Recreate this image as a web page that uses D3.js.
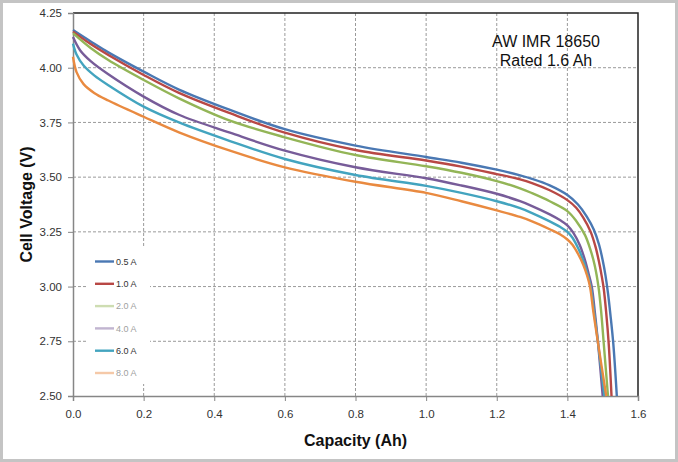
<!DOCTYPE html>
<html><head><meta charset="utf-8">
<script src="https://cdn.jsdelivr.net/npm/d3@7"></script>
<style>body{margin:0;background:#fff}svg{display:block;font-family:"Liberation Sans",Arial,sans-serif}</style>
</head><body><svg id="c" width="678" height="462"></svg>
<script>
const seriesNames = ["0.5 A","1.0 A","2.0 A","4.0 A","6.0 A","8.0 A"];
const seriesColors = ["#4a78b3","#b84845","#93b557","#775c99","#43a4bf","#e98a40"];
const xTicks = [0,0.2,0.4,0.6,0.8,1.0,1.2,1.4,1.6];
const yTicks = [2.5,2.75,3.0,3.25,3.5,3.75,4.0,4.25];
const title = ["AW IMR 18650","Rated 1.6 Ah"];
// [capacity Ah, voltage V]
const s05 = [[0,4.172],[0.05,4.12],[0.1,4.07],[0.2,3.982],[0.3,3.90],[0.4446,3.807],[0.6,3.719],[0.8,3.644],[1.0,3.592],[1.1,3.566],[1.2,3.534],[1.266,3.508],[1.3,3.492],[1.35,3.462],[1.4,3.418],[1.43,3.375],[1.455,3.32],[1.475,3.26],[1.49,3.19],[1.5,3.12],[1.508,3.05],[1.515,2.97],[1.522,2.87],[1.53,2.74],[1.54,2.5]];
const s10 = [[0,4.165],[0.05,4.108],[0.1,4.058],[0.2,3.967],[0.3,3.885],[0.4446,3.792],[0.6,3.703],[0.8,3.624],[1.0,3.576],[1.1,3.548],[1.2,3.514],[1.266,3.49],[1.3,3.473],[1.35,3.44],[1.4,3.395],[1.425,3.36],[1.445,3.315],[1.466,3.25],[1.48,3.18],[1.49,3.11],[1.497,3.05],[1.503,2.99],[1.51,2.88],[1.517,2.74],[1.525,2.5]];
const s20 = [[0,4.158],[0.05,4.09],[0.1,4.035],[0.2,3.944],[0.3,3.86],[0.4446,3.758],[0.6,3.682],[0.8,3.601],[1.0,3.55],[1.1,3.52],[1.2,3.482],[1.266,3.449],[1.3,3.427],[1.35,3.39],[1.4,3.345],[1.425,3.30],[1.45,3.235],[1.465,3.17],[1.477,3.10],[1.488,3.0],[1.496,2.88],[1.503,2.74],[1.515,2.5]];
const s40 = [[0,4.14],[0.02,4.08],[0.05,4.03],[0.1,3.97],[0.2,3.868],[0.3,3.785],[0.4446,3.703],[0.6,3.621],[0.8,3.545],[1.0,3.495],[1.1,3.462],[1.2,3.424],[1.266,3.39],[1.3,3.368],[1.35,3.33],[1.38,3.303],[1.4,3.28],[1.417,3.245],[1.435,3.19],[1.45,3.12],[1.46,3.06],[1.469,3.0],[1.478,2.88],[1.487,2.74],[1.5,2.5]];
const s60 = [[0,4.11],[0.01,4.06],[0.03,4.01],[0.06,3.965],[0.1,3.92],[0.2,3.822],[0.3,3.75],[0.4446,3.665],[0.6,3.583],[0.8,3.51],[1.0,3.46],[1.1,3.428],[1.2,3.39],[1.266,3.358],[1.3,3.336],[1.35,3.298],[1.38,3.272],[1.4,3.25],[1.415,3.222],[1.432,3.17],[1.447,3.11],[1.458,3.05],[1.466,3.0],[1.476,2.88],[1.487,2.74],[1.505,2.5]];
const s80 = [[0,4.05],[0.01,3.98],[0.03,3.925],[0.06,3.885],[0.1,3.85],[0.2,3.776],[0.3,3.705],[0.4446,3.621],[0.6,3.545],[0.8,3.479],[1.0,3.428],[1.1,3.39],[1.2,3.348],[1.266,3.318],[1.3,3.298],[1.35,3.262],[1.38,3.238],[1.4,3.215],[1.415,3.19],[1.43,3.15],[1.445,3.10],[1.456,3.05],[1.464,3.0],[1.474,2.88],[1.487,2.74],[1.51,2.5]];
const seriesData = [s05,s10,s20,s40,s60,s80];

const svg = d3.select("#c");
const L=73,R=638,T=13,B=396;
const x = d3.scaleLinear().domain([0,1.6]).range([L,R]);
const y = d3.scaleLinear().domain([2.5,4.25]).range([B,T]);

// outer frame
svg.append("rect").attr("x",1.5).attr("y",1.5).attr("width",675).attr("height",459)
  .attr("fill","#fff").attr("stroke","#c4c4c4").attr("stroke-width",3);

// gridlines
const g = svg.append("g");
g.selectAll("line.gy").data(yTicks.slice(1,-1)).join("line")
  .attr("x1",L).attr("x2",R).attr("y1",d=>y(d)).attr("y2",d=>y(d))
  .attr("stroke","#9a9a9a").attr("stroke-dasharray","3,2").attr("stroke-width",1);
g.selectAll("line.gx").data(xTicks.slice(1,-1)).join("line")
  .attr("y1",T).attr("y2",B).attr("x1",d=>x(d)).attr("x2",d=>x(d))
  .attr("stroke","#9a9a9a").attr("stroke-dasharray","3,2").attr("stroke-width",1);

// frame top/right
svg.append("path").attr("d",`M${L},${T}H${R}V${B}`).attr("fill","none").attr("stroke","#222").attr("stroke-width",1.5);

// axes
const ya = svg.append("g").attr("transform",`translate(${L},0)`)
  .call(d3.axisLeft(y).tickValues(yTicks).tickFormat(d3.format(".2f")).tickSize(5).tickPadding(6));
const xa = svg.append("g").attr("transform",`translate(0,${B})`)
  .call(d3.axisBottom(x).tickValues(xTicks).tickFormat(d3.format(".1f")).tickSize(5).tickPadding(9));
[ya,xa].forEach(a=>{
  a.select(".domain").attr("stroke","#868686").attr("stroke-width",1.5);
  a.selectAll(".tick line").attr("stroke","#868686");
  a.selectAll("text").attr("fill","#333").attr("font-size",11.5).attr("font-family","Liberation Sans, Arial, sans-serif");
});

// legend background
const legY0 = 261.5, legDY = 22.3;
svg.append("rect").attr("x",88).attr("y",248).attr("width",62).attr("height",136).attr("fill","#fff");

// curves
const line = d3.line().x(d=>x(d[0])).y(d=>y(d[1])).curve(d3.curveCatmullRom.alpha(0.5));
svg.append("g").selectAll("path").data(seriesData).join("path")
  .attr("d",line).attr("fill","none")
  .attr("stroke",(d,i)=>seriesColors[i]).attr("stroke-width",2.4)
  .attr("stroke-linejoin","round").attr("stroke-linecap","butt");

// legend
const faded = [false,false,true,true,false,true];
const lg = svg.append("g").selectAll("g").data(seriesNames).join("g")
  .attr("transform",(d,i)=>`translate(0,${legY0+i*legDY})`);
lg.append("line").attr("x1",95).attr("x2",114).attr("y1",0).attr("y2",0)
  .attr("stroke",(d,i)=>seriesColors[i]).attr("stroke-width",2.4)
  .attr("opacity",(d,i)=>faded[i]?0.45:1);
lg.append("text").attr("x",116).attr("y",3.3).text(d=>d)
  .attr("font-size",9).attr("fill",(d,i)=>faded[i]?"#a0a0a0":"#333");

// title
svg.append("g").selectAll("text").data(title).join("text")
  .attr("x",546).attr("y",(d,i)=>47+i*19).attr("text-anchor","middle")
  .attr("font-size",16).attr("fill","#111").text(d=>d);

// axis titles
svg.append("text").attr("x",(L+R)/2).attr("y",446).attr("text-anchor","middle")
  .attr("font-weight","bold").attr("font-size",16).attr("fill","#111").text("Capacity (Ah)");
svg.append("text").attr("transform",`translate(32,${(T+B)/2}) rotate(-90)`).attr("text-anchor","middle")
  .attr("font-weight","bold").attr("font-size",16).attr("fill","#111").text("Cell Voltage (V)");
</script></body></html>
